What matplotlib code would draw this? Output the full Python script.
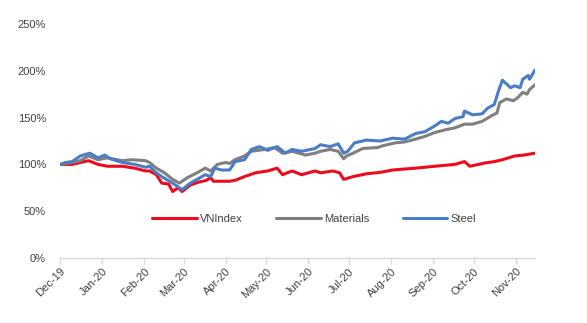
import matplotlib
matplotlib.use("Agg")
import matplotlib.pyplot as plt
import matplotlib.dates as mdates
from matplotlib.ticker import FuncFormatter
import pandas as pd

# ---- data (values in %, x as days since 2019-12-01) ----
start_date = "2019-12-01"

vn_days = [0, 5, 9, 15, 21, 28, 35, 46, 55, 63, 66, 71, 75, 80, 83, 87, 90, 96, 102,
           108, 111, 113, 125, 129, 136, 144, 153, 160, 164, 171, 178, 188, 192, 201,
           206, 209, 216, 226, 236, 245, 262, 276, 291, 298, 302, 313, 320, 326, 335,
           342, 350]
vn_vals = [100, 100, 100, 102, 104, 100, 98, 98, 96, 93, 93, 89, 80, 79, 71, 75, 71, 78, 81,
           83, 86, 82, 82, 83, 87, 91, 93, 96, 89, 93, 89, 93, 91, 93,
           91, 84, 87, 90, 91.5, 94, 96, 98, 100, 103, 98, 101.5, 103, 105, 109,
           110, 112]

mat_days = [0, 9, 15, 21, 28, 35, 46, 53, 63, 66, 71, 77, 83, 88, 94, 101, 107, 111,
            116, 122, 125, 129, 136, 141, 151, 158, 164, 171, 181, 188, 192, 199, 205,
            209, 211, 216, 223, 234, 238, 247, 254, 262, 269, 276, 284, 291, 298, 304,
            311, 318, 322, 324, 329, 334, 337, 341, 344, 346, 350]
mat_vals = [100, 102, 104, 109, 105, 107, 104, 105, 104, 102, 96, 91, 84, 80, 86, 91, 96, 93,
            100, 102, 101, 105, 109, 114, 116, 118, 112, 114, 110, 112, 114, 116, 114,
            106, 109, 112, 117, 118, 120, 123, 124, 127, 130, 134, 137, 139, 143, 143,
            146, 152, 155, 166, 170, 168, 171, 177, 175, 180, 185]

steel_days = [0, 4, 9, 15, 22, 28, 33, 37, 46, 55, 63, 66, 71, 76, 83, 90, 96, 101, 107,
              111, 114, 119, 125, 129, 136, 141, 147, 153, 160, 166, 171, 178, 188, 192,
              199, 205, 209, 212, 217, 226, 236, 245, 254, 262, 269, 276, 281, 286, 291,
              297, 298, 304, 311, 315, 320, 323, 326, 329, 332, 335, 339, 341, 345, 346,
              350]
steel_vals = [100, 102, 103, 109, 112, 107, 110, 106, 102, 100, 97, 98, 91, 86, 80, 73, 80,
              84, 89, 87, 96, 94, 94, 103, 105, 116, 119, 115, 119, 112, 116, 114, 117, 121,
              119, 122, 112, 114, 123, 126, 125, 128, 127, 133, 135, 141, 146, 144, 149,
              151, 157, 153, 154, 160, 164, 178, 190, 186, 182, 184, 182, 191, 195, 191,
              201]

series_names = ["VNIndex", "Materials", "Steel"]
series_colors = ["#EE0A1E", "#7F7F7F", "#4A7DC6"]
tick_months = ["2019-12-01", "2020-01-01", "2020-02-01", "2020-03-01", "2020-04-01",
               "2020-05-01", "2020-06-01", "2020-07-01", "2020-08-01", "2020-09-01",
               "2020-10-01", "2020-11-01"]
y_ticks = [0, 50, 100, 150, 200, 250]

# ---- plotting ----
plt.rcParams["font.family"] = ["Liberation Sans Narrow", "Liberation Sans", "DejaVu Sans"]
W, H = 587, 323
fig = plt.figure(figsize=(W / 100, H / 100), dpi=100)
ax = fig.add_axes([60 / W, (H - 258) / H, 475 / W, 234 / H])

t0 = pd.Timestamp(start_date)
def to_dates(days):
    return [t0 + pd.Timedelta(days=d) for d in days]

all_days = [vn_days, mat_days, steel_days]
all_vals = [vn_vals, mat_vals, steel_vals]
for d, v, name, c in zip(all_days, all_vals, series_names, series_colors):
    ax.plot(to_dates(d), [x / 100 for x in v], color=c, lw=2.2, label=name,
            solid_joinstyle="round", solid_capstyle="round")

ax.set_xlim(t0, t0 + pd.Timedelta(days=max(steel_days)))
ax.set_ylim(0, 2.5)
ax.set_yticks([y / 100 for y in y_ticks])
ax.yaxis.set_major_formatter(FuncFormatter(lambda v, p: f"{v*100:.0f}%"))
ax.set_xticks(pd.to_datetime(tick_months))
ax.xaxis.set_major_formatter(mdates.DateFormatter("%b-%y"))

for s in ["top", "right", "left"]:
    ax.spines[s].set_visible(False)
ax.spines["bottom"].set_color("#D9D9D9")
ax.spines["bottom"].set_linewidth(1.0)
ax.tick_params(axis="y", length=0, pad=10, labelsize=8, labelcolor="#404040")
ax.tick_params(axis="x", length=4, color="#D9D9D9", width=1.0, pad=2,
               labelsize=8, labelcolor="#404040")
for lab in ax.get_xticklabels():
    lab.set_rotation(45)
    lab.set_ha("right")
    lab.set_rotation_mode("anchor")

leg = ax.legend(loc="center", bbox_to_anchor=(0.535, 0.167), ncol=3, frameon=False,
                fontsize=8, handlelength=4.0, handletextpad=0.3, columnspacing=3.0,
                labelcolor="#404040")

fig.savefig("out.png", dpi=100)
